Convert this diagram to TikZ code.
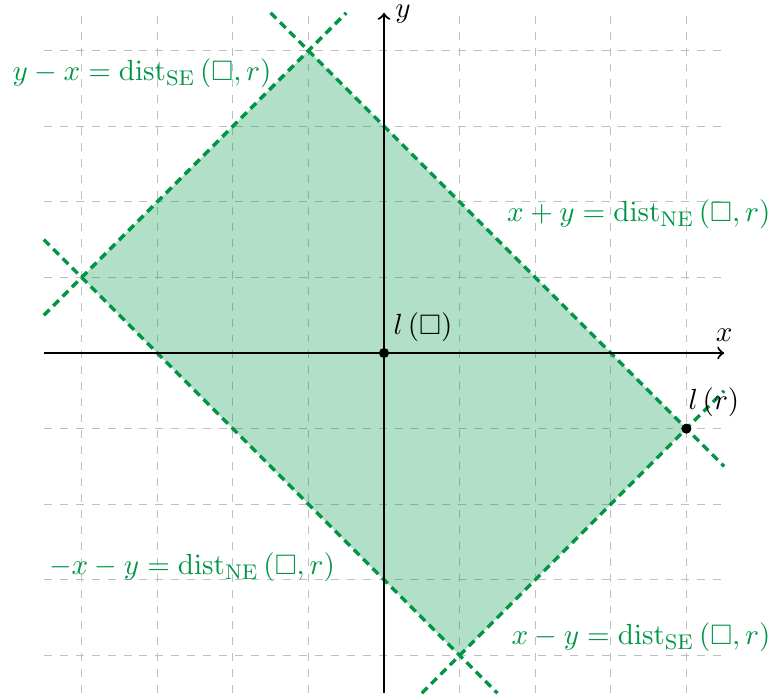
\documentclass[tikz,border=0pt]{standalone}
\usepackage{amsmath,amssymb}
\DeclareMathSizes{10.6}{10.6}{8.3}{6.3}
\definecolor{dgreen}{RGB}{0,150,70}
\begin{document}
\begin{tikzpicture}[
  font=\fontsize{10.6pt}{13pt}\selectfont,
  gridline/.style={gray!50, dashed, thin},
  bound/.style={dgreen, line width=1.3pt, densely dashed},
  lab/.style={text=dgreen, inner sep=0pt},
  axis/.style={thick,->},
  dot/.style={circle, fill=black, inner sep=0pt, minimum size=3.8pt}
]
\useasboundingbox (-5.08,-4.577) rectangle (5.146,4.67);
\draw[gridline] (-4.5,-4.5) grid (4.5,4.5);
% corners
\coordinate (T) at (-1,4);
\coordinate (R) at (4,-1);
\coordinate (B) at (1,-4);
\coordinate (L) at (-4,1);
\fill[dgreen, opacity=0.3] (T) -- (R) -- (B) -- (L) -- cycle;
% boundary lines
\coordinate (a1) at (-4.5,0.5); \coordinate (a2) at (-0.5,4.5);
\coordinate (b1) at (-1.5,4.5); \coordinate (b2) at (4.5,-1.5);
\coordinate (c1) at (-4.5,1.5); \coordinate (c2) at (1.5,-4.5);
\coordinate (d1) at (0.5,-4.5); \coordinate (d2) at (4.5,-0.5);
\draw[bound] (a1) -- (a2);
\draw[bound] (b1) -- (b2);
\draw[bound] (c1) -- (c2);
\draw[bound] (d1) -- (d2);
% axes
\coordinate (xl) at (-4.5,0); \coordinate (xr) at (4.5,0);
\coordinate (yb) at (0,-4.5); \coordinate (yt) at (0,4.5);
\draw[axis] (xl) -- (xr);
\draw[axis] (yb) -- (yt);
\node[inner sep=0pt] (xlab) at (4.5,0.24) {$x$};
\node[inner sep=0pt] (ylab) at (0.25,4.49) {$y$};
% points
\node[dot] (o) at (0,0) {};
\node[dot] (lr) at (R) {};
\node[inner sep=0pt] (olab) at (0.516,0.344) {$l\left(\square\right)$};
\node[inner sep=0pt] (lrlab) at (4.365,-0.648) {$l\left(r\right)$};
% labels
\node[lab] (l1) at (-3.2,3.70) {$y-x=\mathrm{dist}_{\mathrm{SE}}\left(\square,r\right)$};
\node[lab] (l2) at (3.37,1.83) {$x+y=\mathrm{dist}_{\mathrm{NE}}\left(\square,r\right)$};
\node[lab] (l3) at (-2.54,-2.84) {$-x-y=\mathrm{dist}_{\mathrm{NE}}\left(\square,r\right)$};
\node[lab] (l4) at (3.40,-3.76) {$x-y=\mathrm{dist}_{\mathrm{SE}}\left(\square,r\right)$};
\end{tikzpicture}
\end{document}
